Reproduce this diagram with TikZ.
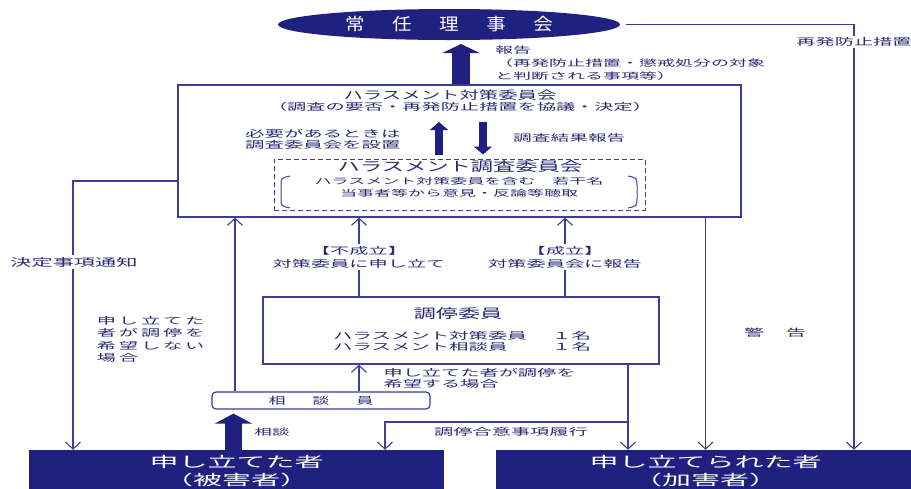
\documentclass[tikz,border=0pt]{standalone}
\usepackage{fontspec}
\usetikzlibrary{shapes.geometric}
\usetikzlibrary{arrows.meta}
\usetikzlibrary{positioning}
\newfontfamily\jpn[FakeStretch=2.0]{Noto Sans CJK JP}
\newfontfamily\jpt[FakeStretch=1.7]{Noto Sans CJK JP}
\newfontfamily\jpe[FakeStretch=1.15]{Noto Sans CJK JP}
\newfontfamily\jpsp[FakeStretch=2.0,LetterSpace=30]{Noto Sans CJK JP}
\definecolor{navyfill}{RGB}{32,32,128}
\definecolor{inkblue}{RGB}{40,40,115}
\definecolor{lineblue}{RGB}{62,62,150}

\begin{document}
\begin{tikzpicture}[x=1pt, y=-1pt,
    lab/.style = {text=inkblue, inner sep=0pt, font=\jpn\fontsize{9.6}{12}\selectfont},
    box/.style = {draw=lineblue, line width=1.2pt},
    conn/.style = {draw=lineblue, line width=1.1pt, -{Straight Barb[length=7pt,width=15pt]}},
    bigarrow/.style = {navyfill, line width=18pt, -{Triangle[width=37pt,length=9pt]}},
    midarrow/.style = {navyfill, line width=8pt, -{Triangle[width=18pt,length=8pt]}},
    dark/.style = {fill=navyfill, text=white, inner sep=0pt}]
            \useasboundingbox (0,0) rectangle (911,488);
            \coordinate (xA) at (235,0);
            \coordinate (xB) at (359,0);
            \coordinate (xC) at (565,0);
            \coordinate (xD) at (628,0);
            \coordinate (xE) at (385,0);
            \coordinate (xF) at (233.5,0);
            \coordinate (saiRight) at (854,24.5);
            \coordinate (ketteiCorner) at (73,181);
            \coordinate (branch) at (628,422);
            \coordinate (topTip) at (461,42);
            \coordinate (upTip) at (439,122);
            \coordinate (downTop) at (483,122);

            \node[ellipse, dark, minimum width=342pt, minimum height=31pt, font=\jpe\fontsize{17}{20}\selectfont] (jonin) at (449,24.5) {常\hspace{27.5pt}任\hspace{27.5pt}理\hspace{27.5pt}事\hspace{27.5pt}会};
            \node[box, minimum width=563pt, minimum height=132pt] (taisaku) at (459.5,151) {};
            \node[lab, font=\jpt\fontsize{11.4}{13}\selectfont] (taisakuT) at (450,95) {ハラスメント対策委員会};
            \node[lab] (taisakuS) at (460,107) {（調査の要否・再発防止措置を協議・決定）};
            \node[box, dashed, dash pattern=on 5pt off 3pt, line width=1pt, minimum width=371pt, minimum height=51pt] (chosa) at (459.5,184.5) {};
            \node[lab, font=\jpt\fontsize{13.1}{15}\selectfont] (chosaT) at (460,167) {ハラスメント調査委員会};
            \node[lab, align=center, font=\jpn\fontsize{8.5}{12}\selectfont] (chosaS) at (459,187) {ハラスメント対策委員を含む　若干名\\当事者等から意見・反論等聴取};
            \node[lab, align=left, anchor=west, font=\jpn\fontsize{9.7}{11}\selectfont] (hitsuyo) at (245,139.5) {必要があるときは\\調査委員会を設置};
            \node[lab, anchor=west, font=\jpn\fontsize{9.35}{12}\selectfont] (kekka) at (513,138) {調査結果報告};
            \node[lab, align=left, anchor=west, font=\jpn\fontsize{9}{13}\selectfont] (hokoku) at (495,63) {報告\\（再発防止措置・懲戒処分の対象\\と判断される事項等）};
            \node[box, minimum width=396pt, minimum height=67pt] (chotei) at (461,330.5) {};
            \node[lab, font=\jpt\fontsize{13}{15}\selectfont] (choteiT) at (458,314) {調停委員};
            \node[lab, align=left, anchor=west, font=\jpn\fontsize{9.7}{11}\selectfont] (choteiS) at (333,341.5) {\makebox[219pt][l]{ハラスメント対策委員}１名\\\makebox[219pt][l]{ハラスメント相談員}１名};
            \node[box, lab, rounded corners=4pt, minimum width=218pt, minimum height=17pt, font=\jpt\fontsize{10}{12}\selectfont] (sodanin) at (321,400.5) {相\hspace{27pt}談\hspace{27pt}員};
            \node[dark, minimum width=415pt, minimum height=42pt, align=center, font=\jpn\fontsize{14.5}{18}\selectfont] (higaisha) at (236.5,471) {申し立てた者\\（被害者）};
            \node[dark, minimum width=419pt, minimum height=42pt, align=center, font=\jpn\fontsize{14.5}{18}\selectfont] (kagaisha) at (705.5,471) {申し立てられた者\\（加害者）};

            \draw[lineblue, line width=1pt] (290,176) .. controls (281,178) .. (281,186) -- (281,198) .. controls (281,206) .. (290,208);
            \draw[lineblue, line width=1pt] (628,176) .. controls (637,178) .. (637,186) -- (637,198) .. controls (637,206) .. (628,208);
            \draw[bigarrow, shorten >=2pt] (taisaku.north -| topTip) -- (topTip);
            \draw[midarrow, shorten <=4pt] (chosa.north -| upTip) -- (upTip);
            \draw[midarrow, shorten >=4pt] (downTop) -- (chosa.north -| downTop);
            \draw[conn, shorten <=6pt] (jonin.east) -- (saiRight) -- (kagaisha.north -| saiRight);
            \node[lab, fill=white, inner sep=2pt] (saihatsu) at (854,42) {再発防止措置};
            \draw[conn] (taisaku.south -| kagaisha.north) -- (kagaisha.north);
            \node[lab, font=\jpn\fontsize{10}{12}\selectfont] (keikoku) at (775,333) {警\hspace{22pt}告};
            \draw[conn] (taisaku.west |- ketteiCorner) -- (ketteiCorner) -- (higaisha.north -| ketteiCorner);
            \node[lab, fill=white, inner sep=2pt, font=\jpn\fontsize{10.6}{12}\selectfont] (kettei) at (74,262) {決定事項通知};
            \draw[conn] (sodanin.north -| xA) -- node[lab, pos=0.3, left=30pt, align=left, font=\jpsp\fontsize{9.6}{12.3}\selectfont] (moushiNo) {申し立てた\\者が調停を\\希望しない\\場合} (taisaku.south -| xA);
            \draw[conn] (sodanin.north -| xB) -- node[lab, midway, right=24pt, align=left, font=\jpn\fontsize{9.6}{11}\selectfont] (moushiYes) {申し立てた者が調停を\\希望する場合} (chotei.south -| xB);
            \draw[conn] (chotei.north -| xB) -- node[lab, midway, fill=white, inner sep=2pt, align=center, font=\jpn\fontsize{9.6}{13}\selectfont] (fuseiritsu) {【不成立】\\対策委員に申し立て} (taisaku.south -| xB);
            \draw[conn] (chotei.north -| xC) -- node[lab, midway, fill=white, inner sep=2pt, align=center, font=\jpn\fontsize{9.6}{13}\selectfont] (seiritsu) {【成立】\\対策委員会に報告} (taisaku.south -| xC);
            \draw[conn] (chotei.south -| xD) -- (kagaisha.north -| xD);
            \draw[conn] (branch) -| (higaisha.north -| xE);
            \node[lab] (goui) at (511,432) {調停合意事項履行};
            \draw[bigarrow, line width=17pt, -{Triangle[width=37pt,length=10pt]}, shorten >=4pt] (higaisha.north -| xF) -- (sodanin.south -| xF);
            \node[lab, font=\jpn\fontsize{8.8}{12}\selectfont] (sodanL) at (272,432) {相談};
        \end{tikzpicture}
\end{document}
